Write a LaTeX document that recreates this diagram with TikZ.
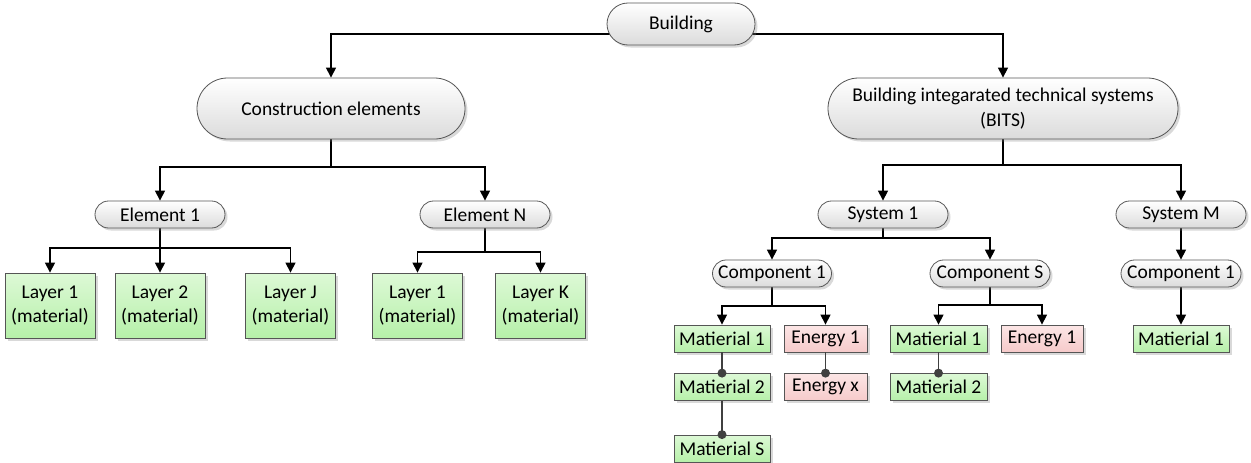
\documentclass[tikz,border=0pt]{standalone}
\usepackage{fontspec}
\setmainfont{Carlito}
\usetikzlibrary{shapes.misc,arrows.meta,shadows,calc}
\pgfdeclarelayer{bg}\pgfsetlayers{bg,main}
\definecolor{bord}{HTML}{555555}
\definecolor{gtop}{HTML}{DDF9D6}
\definecolor{gbot}{HTML}{B6F0A9}
\definecolor{ptop}{HTML}{FCE6E6}
\definecolor{pbot}{HTML}{F6CACA}
\definecolor{dotc}{HTML}{404040}
\newcommand{\fs}{\fontsize{19.5}{24.5}\selectfont}
\tikzset{
  shd/.style={drop shadow={shadow xshift=2.5pt,shadow yshift=-2.5pt,opacity=0.3}},
  term/.style={rounded rectangle, draw=bord, line width=0.8pt, top color=white, bottom color=black!14, shd, inner sep=0pt, align=center, font=\fs},
  matbox/.style={rectangle, draw=bord, line width=0.8pt, top color=gtop, bottom color=gbot, shd, inner sep=0pt, align=center, font=\fs},
  enbox/.style={rectangle, draw=bord, line width=0.8pt, top color=ptop, bottom color=pbot, shd, inner sep=0pt, align=center, font=\fs},
  arr/.style={draw=black, line width=1.2pt, -{Triangle[length=10pt,width=10pt]}},
  lnk/.style={draw=dotc, line width=1.2pt},
  dotnode/.style={circle, fill=dotc, draw=none, minimum size=9pt, inner sep=0pt},
}
\begin{document}
\begin{tikzpicture}[x=1pt,y=-1pt]
\useasboundingbox (0,0) rectangle (1251,463);
% top levels
\node[term, minimum width=148pt, minimum height=42pt] (build) at (681,24) {Building};
\node[term, minimum width=268pt, minimum height=61pt] (ce) at (331,108.5) {Construction elements};
\node[term, minimum width=350pt, minimum height=61pt] (bits) at (1003,108.5) {Building integarated technical systems\\(BITS)};
% elements
\node[term, minimum width=130pt, minimum height=27pt] (e1) at (160,214.5) {Element 1};
\node[term, minimum width=130pt, minimum height=27pt] (eN) at (485,214.5) {Element N};
\node[matbox, minimum width=90pt, minimum height=65pt] (l1) at (50,305.5) {Layer 1\\(material)};
\node[matbox, minimum width=90pt, minimum height=65pt] (l2) at (160,305.5) {Layer 2\\(material)};
\node[matbox, minimum width=90pt, minimum height=65pt] (lJ) at (290.5,305.5) {Layer J\\(material)};
\node[matbox, minimum width=90pt, minimum height=65pt] (nl1) at (417.5,305.5) {Layer 1\\(material)};
\node[matbox, minimum width=90pt, minimum height=65pt] (nlK) at (540.5,305.5) {Layer K\\(material)};
% systems
\node[term, minimum width=130pt, minimum height=27pt] (s1) at (883,214.5) {System 1};
\node[term, minimum width=130pt, minimum height=27pt] (sM) at (1181,214.5) {System M};
\node[term, minimum width=119pt, minimum height=27pt] (c1) at (772,273.5) {Component 1};
\node[term, minimum width=120pt, minimum height=27pt] (cS) at (990,273.5) {Component S};
\node[term, minimum width=120pt, minimum height=27pt] (cM) at (1181,273.5) {Component 1};
% materials
\node[matbox, minimum width=96pt, minimum height=27pt] (m1) at (722,338.5) {Matierial 1};
\node[matbox, minimum width=96pt, minimum height=27pt] (m2) at (722,387) {Matierial 2};
\node[matbox, minimum width=96pt, minimum height=27pt] (mS) at (722,448.5) {Matierial S};
\node[enbox, minimum width=83pt, minimum height=27pt] (en1) at (825.5,338.5) {Energy 1};
\node[enbox, minimum width=83pt, minimum height=27pt] (enx) at (825.5,387) {Energy x};
\node[matbox, minimum width=97pt, minimum height=27pt] (sm1) at (938.5,338.5) {Matierial 1};
\node[matbox, minimum width=97pt, minimum height=27pt] (sm2) at (938.5,387) {Matierial 2};
\node[enbox, minimum width=82pt, minimum height=27pt] (sen1) at (1042,338.5) {Energy 1};
\node[matbox, minimum width=96pt, minimum height=27pt] (mm1) at (1181,338.5) {Matierial 1};
% junctions
\coordinate (jce) at (331,167);
\coordinate (je1) at (160,248);
\coordinate (jeN) at (485,252);
\coordinate (jbits) at (1003,165);
\coordinate (js1) at (883,238);
\coordinate (jc1) at (772,306);
\coordinate (jcS) at (990,305);
\begin{pgfonlayer}{bg}
\draw[arr] ([yshift=-10pt]build.center) -| (ce.north);
\draw[arr] ([yshift=-10pt]build.center) -| (bits.north);
\draw[line width=1.2pt] (ce.south) -- (jce);
\draw[arr] (jce) -| (e1.north);
\draw[arr] (jce) -| (eN.north);
\draw[line width=1.2pt] (e1.south) -- (je1);
\draw[arr] (je1) -| (l1.north);
\draw[arr] (je1) -- (l2.north);
\draw[arr] (je1) -| (lJ.north);
\draw[line width=1.2pt] (eN.south) -- (jeN);
\draw[arr] (jeN) -| (nl1.north);
\draw[arr] (jeN) -| (nlK.north);
\draw[line width=1.2pt] (bits.south) -- (jbits);
\draw[arr] (jbits) -| (s1.north);
\draw[arr] (jbits) -| (sM.north);
\draw[line width=1.2pt] (s1.south) -- (js1);
\draw[arr] (js1) -| (c1.north);
\draw[arr] (js1) -| (cS.north);
\draw[arr] (sM.south) -- (cM.north);
\draw[line width=1.2pt] (c1.south) -- (jc1);
\draw[arr] (jc1) -| (m1.north);
\draw[arr] (jc1) -| (en1.north);
\draw[line width=1.2pt] (cS.south) -- (jcS);
\draw[arr] (jcS) -| (sm1.north);
\draw[arr] (jcS) -| (sen1.north);
\draw[arr] (cM.south) -- (mm1.north);
\end{pgfonlayer}
\draw[lnk] (m1.south) -- (m2.north) node[dotnode] {};
\draw[lnk] (m2.south) -- (mS.north) node[dotnode] {};
\draw[lnk] (en1.south) -- (enx.north) node[dotnode] {};
\draw[lnk] (sm1.south) -- (sm2.north) node[dotnode] {};
\end{tikzpicture}
\end{document}
